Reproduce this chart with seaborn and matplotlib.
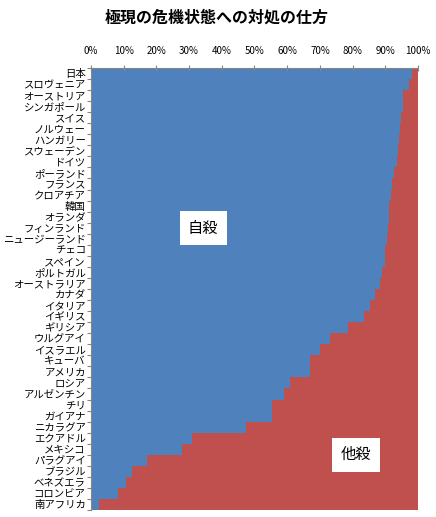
import numpy as np
import pandas as pd
import matplotlib
matplotlib.use("Agg")
import matplotlib.pyplot as plt
import seaborn as sns

# データ（自殺の割合 %、残りは他殺）
countries = ["日本", "スロヴェニア", "オーストリア", "シンガポール", "スイス",
             "ノルウェー", "ハンガリー", "スウェーデン", "ドイツ", "ポーランド",
             "フランス", "クロアチア", "韓国", "オランダ", "フィンランド",
             "ニュージーランド", "チェコ", "スペイン", "ポルトガル", "オーストラリア",
             "カナダ", "イタリア", "イギリス", "ギリシア", "ウルグアイ",
             "イスラエル", "キューバ", "アメリカ", "ロシア", "アルゼンチン",
             "チリ", "ガイアナ", "ニカラグア", "エクアドル", "メキシコ",
             "パラグアイ", "ブラジル", "ベネズエラ", "コロンビア", "南アフリカ"]
suicide = [98.3, 97.3, 95.5, 95.5, 94.7,
           94.5, 94.3, 94.0, 93.5, 92.8,
           92.2, 91.8, 91.2, 91.0, 90.9,
           90.5, 90.0, 89.8, 89.0, 88.4,
           86.9, 85.3, 83.5, 78.7, 73.1,
           70.0, 67.0, 67.0, 60.9, 59.1,
           55.5, 55.5, 47.3, 30.8, 27.7,
           17.0, 12.4, 10.7, 8.4, 2.4]
total = [100.0] * len(countries)

df = pd.DataFrame({"country": countries, "suicide": suicide, "total": total})

plt.rcParams['font.family'] = ['Noto Sans CJK JP', 'DejaVu Sans']

fig = plt.figure(figsize=(4.36, 5.17), dpi=100)
ax = fig.add_axes([0.2087, 0.0135, 0.75, 0.855])

sns.barplot(data=df, x="total", y="country", orient="h", color="#C0504D",
            width=1.0, saturation=1, linewidth=0, ax=ax)
sns.barplot(data=df, x="suicide", y="country", orient="h", color="#4F81BD",
            width=1.0, saturation=1, linewidth=0, ax=ax)

ax.set_xlim(0, 100)
ax.set_ylim(len(countries) - 0.5, -0.5)
ax.set_xlabel("")
ax.set_ylabel("")

# 上側の目盛り
ax.xaxis.tick_top()
ax.set_xticks(np.arange(0, 101, 10))
ax.set_xticklabels([f"{v}%" for v in range(0, 101, 10)], fontsize=7)
ax.tick_params(axis="x", direction="inout", length=5, color="#868686", pad=6)

# 左側の目盛り（カテゴリの境界）、国名はベースライン揃えで描く
ax.set_yticks(np.arange(-0.5, len(countries), 1))
ax.set_yticklabels([])
ax.tick_params(axis="y", length=3, color="#868686")
ytrans = ax.get_yaxis_transform()
for i, name in enumerate(countries):
    ax.text(-0.016, i + 0.34, name, transform=ytrans, fontsize=7.5,
            ha="right", va="baseline")

for side in ["right", "bottom"]:
    ax.spines[side].set_visible(False)
for side in ["top", "left"]:
    ax.spines[side].set_color("#868686")
    ax.spines[side].set_linewidth(0.8)

# ラベル
box = dict(facecolor="white", edgecolor="none", pad=6)
ax.text(34.3, 14.0, "自殺", fontsize=11, ha="center", va="center", bbox=box)
ax.text(81.0, 34.5, "他殺", fontsize=11, ha="center", va="center", bbox=box)

fig.text(0.497, 0.966, "極現の危機状態への対処の仕方", fontsize=11.5,
         fontweight="bold", ha="center", va="center")

fig.savefig("out.png", dpi=100)
